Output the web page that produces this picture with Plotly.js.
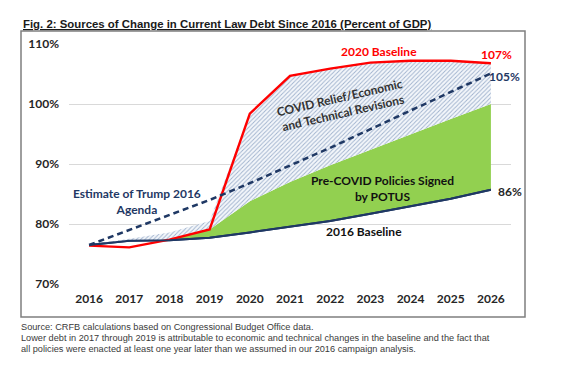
<!DOCTYPE html>
<html>
<head>
<meta charset="utf-8">
<script src="https://cdn.plot.ly/plotly-3.0.1.min.js"></script>
<style>
  html, body { margin: 0; padding: 0; background: #ffffff; }
  #chart { width: 585px; height: 368px; }
</style>
</head>
<body>
<div id="chart"></div>
<script>
// ---- Data (percent of GDP) ----
const years = [2016, 2017, 2018, 2019, 2020, 2021, 2022, 2023, 2024, 2025, 2026];
const baseline2016 = [76.5, 77.2, 77.3, 77.7, 78.6, 79.5, 80.5, 81.7, 82.9, 84.2, 85.7];
const preCovidTop = [76.5, 77.2, 77.4, 79.1, 83.8, 87.0, 89.8, 92.4, 95.0, 97.5, 100.0];
const covidRevTop = [76.5, 77.6, 78.6, 80.5, 98.4, 104.7, 105.9, 106.9, 107.2, 107.2, 106.8];
const baseline2020 = [76.4, 76.1, 77.4, 79.1, 98.4, 104.7, 105.9, 106.9, 107.2, 107.2, 106.8];
const trumpAgenda = [76.5, 79.0, 81.5, 84.0, 86.8, 89.7, 92.7, 95.8, 98.9, 102.0, 105.1];
const yTickVals = [70, 80, 90, 100, 110];
const yTickText = ['70%', '80%', '90%', '100%', '110%'];

const navy = '#1F3864';
const red = '#FF0000';
const green = '#92D050';
const lblFont = 'Lato, "Open Sans", sans-serif';

const traces = [
  { x: years, y: baseline2016, mode: 'lines', line: { color: navy, width: 2 }, hoverinfo: 'skip' },
  { x: years, y: preCovidTop, mode: 'lines', line: { width: 0 }, fill: 'tonexty', fillcolor: green, hoverinfo: 'skip' },
  { x: years, y: covidRevTop, mode: 'lines', line: { width: 0 }, fill: 'tonexty',
    fillcolor: '#F4F7FB',
    fillpattern: { shape: '/', fgcolor: '#9FB2CD', bgcolor: '#F4F7FB', size: 3, solidity: 0.3 },
    hoverinfo: 'skip' },
  { x: years, y: baseline2020, mode: 'lines', line: { color: red, width: 2.4 }, hoverinfo: 'skip' },
  { x: years, y: trumpAgenda, mode: 'lines', line: { color: navy, width: 2.5, dash: '6px,4px' }, hoverinfo: 'skip' },
  { x: years, y: baseline2016, mode: 'lines', line: { color: navy, width: 2 }, hoverinfo: 'skip' }
];

const L = 69, R = 511, T = 44, B = 284; // plot area in px
const W = R - L, H = B - T;
const px = (x) => (x - L) / W;
const py = (y) => (B - y) / H;

const footFont = { family: 'Arial, "Liberation Sans", sans-serif', size: 9.2, color: '#3a3a3a' };

const annotations = [
  { xref: 'paper', yref: 'paper', x: px(21), y: py(24), xanchor: 'left', yanchor: 'middle', showarrow: false,
    text: '<u>Fig. 2: Sources of Change in Current Law Debt Since 2016 (Percent of GDP)</u>',
    font: { family: 'Arial, "Liberation Sans", sans-serif', size: 11.4, weight: 700, color: '#1a1a1a' } },
  { x: 2023.21, y: 108.7, showarrow: false, text: '2020 Baseline', font: { family: lblFont, size: 12, weight: 700, color: red } },
  { x: 2026.15, y: 108.3, showarrow: false, text: '107%', font: { family: lblFont, size: 12, weight: 700, color: red } },
  { x: 2026.35, y: 104.55, showarrow: false, text: '105%', font: { family: lblFont, size: 12, weight: 700, color: navy } },
  { x: 2026.47, y: 85.4, showarrow: false, text: '86%', font: { family: lblFont, size: 12, weight: 700, color: '#262626' } },
  { x: 2022.27, y: 99.8, showarrow: false, textangle: -13, text: 'COVID Relief/Economic<br>and Technical Revisions',
    font: { family: lblFont, size: 12, weight: 700, color: '#333333' } },
  { x: 2023.29, y: 86.0, showarrow: false, text: 'Pre-COVID Policies Signed<br>by POTUS',
    font: { family: lblFont, size: 12, weight: 700, color: '#111111' } },
  { x: 2017.18, y: 83.8, showarrow: false, text: 'Estimate of Trump 2016<br>Agenda',
    font: { family: lblFont, size: 12, weight: 700, color: navy } },
  { x: 2022.84, y: 78.8, showarrow: false, text: '2016 Baseline',
    font: { family: lblFont, size: 12, weight: 700, color: '#111111' } },
  { xref: 'paper', yref: 'paper', x: px(19), y: py(326.7), xanchor: 'left', yanchor: 'middle', showarrow: false,
    text: 'Source: CRFB calculations based on Congressional Budget Office data.', font: footFont },
  { xref: 'paper', yref: 'paper', x: px(19), y: py(337.7), xanchor: 'left', yanchor: 'middle', showarrow: false,
    text: 'Lower debt in 2017 through 2019 is attributable to economic and technical changes in the baseline and the fact that', font: footFont },
  { xref: 'paper', yref: 'paper', x: px(19), y: py(348.5), xanchor: 'left', yanchor: 'middle', showarrow: false,
    text: 'all policies were enacted at least one year later than we assumed in our 2016 campaign analysis.', font: footFont }
];

const layout = {
  width: 585, height: 368,
  margin: { l: L, r: 585 - R, t: T, b: 368 - B, pad: 0 },
  paper_bgcolor: '#ffffff', plot_bgcolor: '#ffffff',
  showlegend: false,
  xaxis: {
    range: [2015.5, 2026.5], tickvals: years, ticktext: years.map(String),
    showgrid: false, zeroline: false, showline: false, ticks: '',
    tickfont: { family: lblFont, size: 12, weight: 700, color: '#262626' },
    ticklabelstandoff: 6
  },
  yaxis: {
    range: [70, 110], tickvals: yTickVals, ticktext: yTickText,
    showgrid: true, gridcolor: '#D9D9D9', gridwidth: 1, zeroline: false, showline: false, ticks: '',
    tickfont: { family: lblFont, size: 12, weight: 700, color: '#262626' },
    ticklabelstandoff: 9
  },
  shapes: [
    { type: 'rect', xref: 'paper', yref: 'paper', x0: px(21), x1: px(525), y0: py(317), y1: py(31),
      line: { color: '#7f7f7f', width: 1.5 }, fillcolor: 'rgba(0,0,0,0)', layer: 'below' }
  ],
  annotations: annotations
};

Plotly.newPlot('chart', traces, layout, { staticPlot: true, displayModeBar: false });
</script>
</body>
</html>
